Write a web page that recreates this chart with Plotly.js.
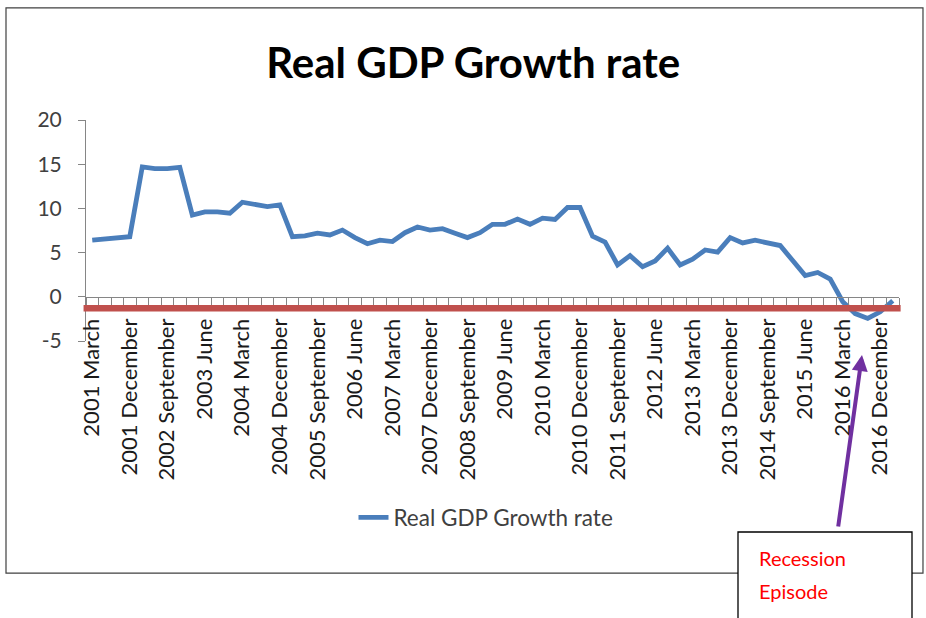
<!DOCTYPE html>
<html>
<head>
<meta charset="utf-8">
<script src="https://cdn.plot.ly/plotly-3.0.1.min.js"></script>
<style>
  html, body { margin: 0; padding: 0; background: #ffffff; }
  #chart { width: 926px; height: 618px; }
</style>
</head>
<body>
<div id="chart"></div>
<script>
// ---- data ----
const quarterMonths = ['March', 'June', 'September', 'December'];
const firstYear = 2001;
const quarterCount = 65; // 2001 March .. 2017 March
const categories = [];
for (let i = 0; i < quarterCount; i++) {
  categories.push((firstYear + Math.floor(i / 4)) + ' ' + quarterMonths[i % 4]);
}
const growth = [6.4, 6.55, 6.75, 6.8, 14.7, 14.5, 14.5, 14.65, 9.25, 9.6, 9.6, 9.45,
  10.7, 10.4, 10.2, 10.4, 6.8, 6.9, 7.2, 7.0, 7.55, 6.7, 6.0, 6.4, 6.25, 7.25, 7.9,
  7.55, 7.7, 7.2, 6.7, 7.25, 8.2, 8.2, 8.8, 8.2, 8.9, 8.75, 10.1, 10.1, 6.85, 6.2,
  3.6, 4.65, 3.4, 4.05, 5.5, 3.6, 4.25, 5.3, 5.05, 6.7, 6.1, 6.4, 6.15, 5.8, 4.1,
  2.4, 2.75, 2.0, -0.55, -1.9, -2.45, -1.7, -0.45];
const labelStep = 3;
const yTicks = [-5, 0, 5, 10, 15, 20];
const recessionLevel = -1.3;
const seriesName = 'Real GDP Growth rate';
const chartTitle = 'Real GDP Growth rate';
const calloutLines = ['Recession', 'Episode'];

// ---- build ----
const xIdx = categories.map((c, i) => i);
const tickIdx = xIdx.filter(i => i % labelStep === 0);
const tickText = tickIdx.map(i => categories[i]);

const FONT = 'Lato, "Open Sans", sans-serif';
const axisGrey = '#868686';

const trace = {
  x: xIdx,
  y: growth,
  type: 'scatter',
  mode: 'lines',
  name: seriesName,
  line: { color: '#4a7ebb', width: 4.8 },
  cliponaxis: false
};

const layout = {
  width: 926,
  height: 618,
  margin: { l: 86, r: 27, t: 120, b: 277 },
  paper_bgcolor: '#ffffff',
  plot_bgcolor: '#ffffff',
  font: { family: FONT, color: '#262626' },
  showlegend: true,
  title: {
    text: chartTitle,
    font: { family: FONT, size: 42, color: '#000000', weight: 'bold' },
    xref: 'container', x: 0.511, xanchor: 'center',
    yref: 'container', y: 0.897, yanchor: 'middle'
  },
  xaxis: {
    type: 'linear',
    range: [-0.5, quarterCount - 0.5],
    anchor: 'free',
    position: 0.2,
    showgrid: false,
    zeroline: false,
    showline: true,
    linecolor: axisGrey,
    linewidth: 1,
    tickmode: 'array',
    tickvals: tickIdx,
    ticktext: tickText,
    ticks: 'outside',
    ticklen: 8,
    tickcolor: 'rgba(0,0,0,0)',
    ticklabelstandoff: 4,
    tickangle: -90,
    tickfont: { family: FONT, size: 22, color: '#1a1a1a' },
    minor: {
      tickmode: 'linear',
      tick0: -0.5,
      dtick: 1,
      ticks: 'outside',
      ticklen: 9,
      tickcolor: axisGrey,
      showgrid: false
    },
    fixedrange: true
  },
  yaxis: {
    range: [-5, 20],
    tickmode: 'array',
    tickvals: yTicks,
    ticktext: yTicks.map(String),
    showgrid: false,
    zeroline: false,
    showline: true,
    linecolor: axisGrey,
    linewidth: 1,
    ticks: 'outside',
    ticklen: 7,
    tickcolor: axisGrey,
    ticklabelstandoff: 12,
    tickfont: { family: FONT, size: 21, color: '#404040' },
    fixedrange: true
  },
  legend: {
    orientation: 'h',
    x: 0.492, xanchor: 'center',
    y: -0.80, yanchor: 'middle',
    font: { family: FONT, size: 22.5, color: '#404040' },
    bgcolor: 'rgba(0,0,0,0)'
  },
  shapes: [
    // outer chart frame
    { type: 'rect', xref: 'paper', yref: 'paper', x0: -0.0984, x1: 1.0295, y0: -1.050, y1: 1.507,
      line: { color: '#404040', width: 1.2 }, fillcolor: 'rgba(0,0,0,0)', layer: 'below' },
    // recession threshold line
    { type: 'line', xref: 'paper', yref: 'y', x0: -0.003, x1: 1.002, y0: recessionLevel, y1: recessionLevel,
      line: { color: '#c0504d', width: 6.5 }, layer: 'above' },
    // callout box
    { type: 'rect', xref: 'paper', yref: 'paper',
      x0: (738 - 86) / 813, x1: (912 - 86) / 813, y0: (341 - 640) / 221, y1: (341 - 532) / 221,
      line: { color: '#000000', width: 1.3 }, fillcolor: '#ffffff', layer: 'above' }
  ],
  annotations: [
    { xref: 'paper', yref: 'paper', x: (862 - 86) / 813, y: (341 - 355) / 221,
      text: '', showarrow: true, arrowhead: 2, arrowsize: 0.8, arrowwidth: 4,
      arrowcolor: '#7030a0', ax: -24, ay: 173, standoff: 0 },
    { xref: 'paper', yref: 'paper', x: (757 - 86) / 813, y: (341 - 558) / 221,
      xanchor: 'left', yanchor: 'middle', showarrow: false, text: calloutLines[0],
      font: { family: FONT, size: 20, color: '#ff0000' } },
    { xref: 'paper', yref: 'paper', x: (757 - 86) / 813, y: (341 - 591) / 221,
      xanchor: 'left', yanchor: 'middle', showarrow: false, text: calloutLines[1],
      font: { family: FONT, size: 20, color: '#ff0000' } }
  ]
};

Plotly.newPlot('chart', [trace], layout, { staticPlot: true, displayModeBar: false });
</script>
</body>
</html>
